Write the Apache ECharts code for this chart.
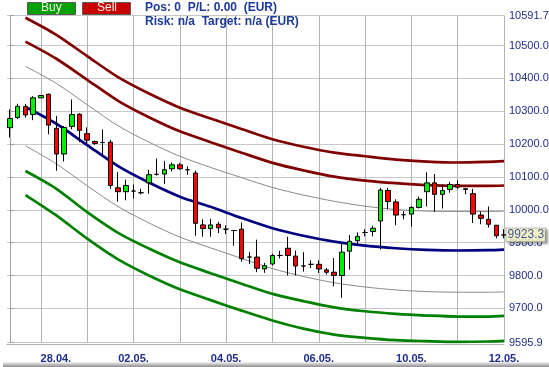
<!DOCTYPE html>
<html><head><meta charset="utf-8">
<script src="https://cdn.jsdelivr.net/npm/echarts@6/dist/echarts.min.js"></script>
<style>html,body{margin:0;padding:0;background:#fff}#c{width:549px;height:367px}</style>
</head><body><div id="c"></div>
<script>
// ---- data ----
const days = ['27.04.','28.04.','29.04.','02.05.','03.05.','04.05.','05.05.','06.05.','09.05.','10.05.','11.05.','12.05.'];
const barsPerDay = [4,6,6,6,6,6,6,6,6,6,6,1];
const tickLabels = ['28.04.','02.05.','04.05.','06.05.','10.05.','12.05.'];
const yTickValues = [9595.9, 9700, 9800, 9900, 10000, 10100, 10200, 10300, 10400, 10500, 10591.7];
const yMin = 9595.9, yMax = 10591.7;

const opens  = [10250,10281,10315,10290,10341,10352,10248,10170,10254,10291,10232,10208,10205,10206,10067,10055,10057,10052,10082,10108,10109,10125,10137,10122,10112,9954,9943,9956,9941,9937,9941,9856,9856,9820,9835,9861,9883,9859,9829,9834,9834,9817,9810,9800,9874,9906,9931,9934,9966,10059,10024,9985,9987,10007,10055,10082,10047,10062,10077,10064,10049,9984,9971,9953,9923.3];
const closes = [10278,10315,10289,10341,10348,10258,10170,10251,10290,10242,10212,10202,10205,10074,10055,10074,10057,10052,10107,10108,10122,10137,10125,10122,9959,9943,9954,9945,9941,9937,9851,9856,9822,9830,9861,9861,9861,9829,9829,9834,9820,9810,9800,9871,9904,9919,9931,9944,10060,10025,9984,9985,10007,10032,10082,10047,10059,10077,10069,10062,9987,9974,9956,9921,9923.3];
const lows   = [10220,10276,10281,10273,10341,10230,10119,10147,10245,10206,10203,10198,10170,10064,10025,10029,10034,10047,10049,10104,10079,10117,10122,10107,9921,9918,9918,9929,9926,9891,9842,9835,9810,9808,9830,9852,9800,9800,9812,9822,9808,9803,9767,9732,9818,9893,9919,9919,9879,10002,9953,9971,9949,10004,10010,9994,10004,10052,10064,10047,9960,9956,9946,9913,9913];
const highs  = [10306,10323,10322,10346,10350,10354,10286,10255,10336,10294,10251,10211,10245,10213,10115,10092,10077,10064,10122,10156,10149,10144,10143,10132,10119,9971,9973,9963,9953,9937,9961,9871,9909,9838,9866,9875,9918,9876,9871,9846,9846,9823,9853,9898,9923,9931,9941,9951,10067,10067,10032,9996,10011,10040,10114,10109,10077,10085,10090,10067,10064,9995,10010,9953,9941];
const lastPrice = 9923.3;

const bandIdx    = [2,6,10,14,18,22,26,30,34,38,42,46,50,54,58,62,64];
const outerUpper = [10585,10533,10468,10404,10354,10311,10278,10246,10215,10192,10174,10163,10153,10147,10144,10146,10148];
const innerUpper = [10512,10460,10396,10332,10282,10239,10206,10174,10143,10120,10101,10089,10081,10075,10073,10073,10074];
const grayUpper  = [10437,10385,10320,10256,10206,10163,10129,10098,10068,10045,10026,10011,10001,9996,9995,9995,9996];
const middle     = [10313,10262,10197,10133,10083,10040,10009,9975,9944,9921,9903,9891,9883,9878,9876,9877,9879];
const grayLower  = [10195,10140,10073,10010,9960,9917,9884,9852,9821,9797,9778,9765,9756,9751,9749,9749,9750];
const innerLower = [10118,10064,9993,9930,9882,9840,9807,9775,9744,9722,9703,9691,9683,9678,9675,9675,9677];
const outerLower = [10045,9983,9912,9849,9800,9758,9725,9693,9663,9638,9620,9610,9603,9600,9598,9599,9601];

// ---- build ----
const dayStart = [];
let acc = 0;
barsPerDay.forEach(n => { dayStart.push(acc); acc += n; });
const nBars = acc;
const tickIdx = dayStart.slice(1);
const labelIdx = tickLabels.map(t => dayStart[days.indexOf(t)]);
const labelText = {};
tickLabels.forEach((t, k) => { labelText[labelIdx[k]] = t; });

const candleData = opens.map((o, i) => [i, o, closes[i], lows[i], highs[i]]);
const mk = arr => bandIdx.map((x, k) => [x, arr[k]]);

const TXT = '#1e2d8c';
const FONT = 'Liberation Sans, Arial, sans-serif';
const lineSeries = (arr, color, width) => ({
  type: 'line', data: mk(arr), showSymbol: false, smooth: 0.3, silent: true,
  lineStyle: { color: color, width: width }, z: 2, animation: false
});

const chart = echarts.init(document.getElementById('c'), null, { renderer: 'canvas' });
chart.setOption({
  animation: false,
  backgroundColor: '#ffffff',
  grid: { left: 7, right: 45, top: 15.5, bottom: 24.5, outerBoundsMode: 'none', containLabel: false },
  xAxis: {
    type: 'value', min: -0.39, max: nBars - 1,
    axisLine: { show: true, lineStyle: { color: '#b0b0b0' } },
    offset: 2,
    axisTick: { show: false, customValues: tickIdx },
    splitLine: { show: true, lineStyle: { color: '#b4b4b4', width: 1 } },
    axisLabel: {
      customValues: labelIdx, margin: 9,
      fontFamily: FONT, fontSize: 11, fontWeight: 'bold', color: TXT,
      formatter: v => (v === labelIdx[0] ? '{l|' + labelText[v] + '}' : labelText[v] || ''),
      rich: { l: { padding: [0, 0, 0, 30], fontFamily: FONT, fontSize: 11, fontWeight: 'bold', color: TXT } }
    }
  },
  yAxis: {
    type: 'value', position: 'right', min: yMin, max: yMax, scale: true,
    axisLine: { show: true, lineStyle: { color: '#a0a0a0' } },
    axisTick: { show: true, length: 4, customValues: yTickValues, lineStyle: { color: '#a0a0a0' } },
    splitLine: { show: true, lineStyle: { color: '#c8c8c8', width: 1 } },
    axisLabel: {
      customValues: yTickValues, margin: 5,
      fontFamily: FONT, fontSize: 11, color: TXT,
      formatter: v => Number(v).toFixed(1)
    }
  },
  series: [
    lineSeries(outerUpper, '#800000', 2.7),
    lineSeries(innerUpper, '#800000', 2.7),
    lineSeries(grayUpper, '#8a8a8a', 1),
    lineSeries(middle, '#000080', 2.7),
    lineSeries(grayLower, '#8a8a8a', 1),
    lineSeries(innerLower, '#008000', 2.7),
    lineSeries(outerLower, '#008000', 2.7),
    {
      type: 'candlestick', data: candleData, encode: { x: 0, y: [1, 2, 3, 4] },
      barWidth: 5, clip: false, z: 5, silent: true,
      itemStyle: { color: '#00f000', color0: '#ff0000', borderColor: '#000', borderColor0: '#000', borderColorDoji: '#000', borderWidth: 1 }
    },
    {
      type: 'scatter', data: [[nBars - 1, lastPrice]], symbol: 'rect', symbolSize: 1, silent: true, z: 20,
      clip: false, itemStyle: { color: 'rgba(0,0,0,0)' },
      label: {
        show: true, position: 'right', distance: 2, formatter: String(lastPrice),
        fontFamily: FONT, fontSize: 12, color: TXT,
        backgroundColor: '#ffffc8', borderColor: '#a8a8a8', borderWidth: 1, padding: [1, 1, 0, 1],
        shadowColor: 'rgba(0,0,0,0.35)', shadowBlur: 2, shadowOffsetX: 2, shadowOffsetY: 2
      }
    }
  ],
  graphic: [
    { type: 'rect', left: 3, top: 362, z: 100, silent: true,
      shape: { width: 546, height: 5 },
      style: { fill: new echarts.graphic.LinearGradient(0, 0, 0, 1, [{ offset: 0, color: '#f4f4f4' }, { offset: 1, color: '#8c8c8c' }]) } },
    { type: 'rect', left: 27, top: 2, z: 100, silent: true, shape: { width: 48, height: 12 },
      style: { fill: '#00a000', stroke: '#5a5a5a', lineWidth: 1 } },
    { type: 'text', left: 41, top: 2, z: 101, silent: true,
      style: { text: 'Buy', fill: '#f4f4f4', font: '12px "Liberation Sans", Arial, sans-serif' } },
    { type: 'rect', left: 82, top: 2, z: 100, silent: true, shape: { width: 48, height: 12 },
      style: { fill: '#c80000', stroke: '#5a5a5a', lineWidth: 1 } },
    { type: 'text', left: 97, top: 2, z: 101, silent: true,
      style: { text: 'Sell', fill: '#f4f4f4', font: '12px "Liberation Sans", Arial, sans-serif' } },
    { type: 'text', left: 145, top: 2, z: 101, silent: true,
      style: { text: 'Pos: 0  P/L: 0.00  (EUR)', fill: '#1c3a9a', font: 'bold 12px "Liberation Sans", Arial, sans-serif' } },
    { type: 'text', left: 145, top: 16, z: 101, silent: true,
      style: { text: 'Risk: n/a  Target: n/a (EUR)', fill: '#1c3a9a', font: 'bold 12px "Liberation Sans", Arial, sans-serif' } }
  ]
});
</script></body></html>
